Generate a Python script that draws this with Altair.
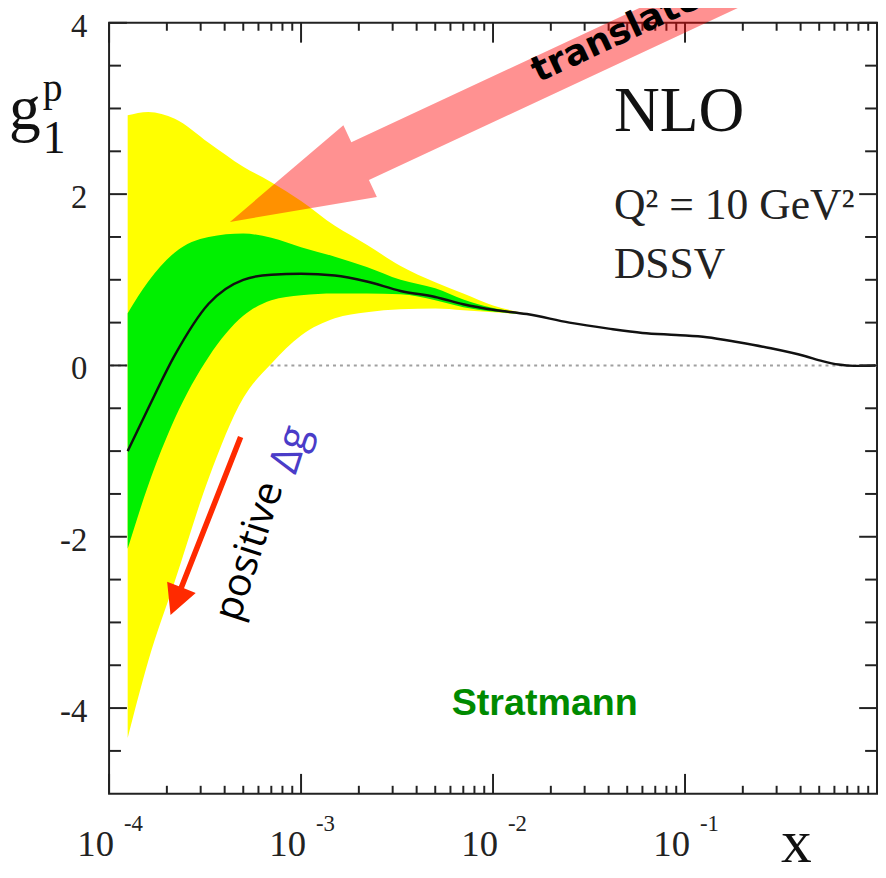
import altair as alt
import pandas as pd

# ---- data ----
band_x = [1.25e-4, 1.6e-4, 2.2e-4, 3.3e-4, 5e-4, 7e-4, 1e-3, 1.5e-3, 2.2e-3,
          3.3e-3, 5e-3, 7e-3, 1e-2, 1.5e-2]
yellow_hi = [2.92, 2.96, 2.88, 2.60, 2.32, 2.14, 1.92, 1.63, 1.41, 1.16, 0.97, 0.84, 0.70, 0.605]
green_hi = [0.61, 0.98, 1.32, 1.50, 1.54, 1.49, 1.38, 1.27, 1.15, 1.00, 0.90, 0.77, 0.67, 0.602]
central = [-1.00, -0.50, 0.12, 0.72, 1.00, 1.06, 1.07, 1.05, 0.98, 0.87, 0.80, 0.715, 0.65, 0.60]
green_lo = [-2.14, -1.40, -0.62, 0.10, 0.58, 0.76, 0.82, 0.84, 0.84, 0.83, 0.76, 0.68, 0.63, 0.598]
yellow_lo = [-4.35, -3.45, -2.52, -1.32, -0.38, 0.02, 0.35, 0.55, 0.62, 0.655, 0.665, 0.645, 0.62, 0.595]

tail_x = [0.025, 0.04, 0.06, 0.09, 0.13, 0.19, 0.28, 0.42, 0.52, 0.63, 0.76, 0.98]
tail_y = [0.50, 0.43, 0.38, 0.355, 0.33, 0.27, 0.20, 0.11, 0.05, 0.01, -0.005, 0.0]

y_major = [-4, -2, 0, 2, 4]
y_minor = [-4.5, -3.5, -3, -2.5, -1.5, -1, -0.5, 0.5, 1, 1.5, 2.5, 3, 3.5]
x_major = [1e-4, 1e-3, 1e-2, 1e-1, 1.0]
x_minor = [k * 10.0 ** e for e in (-4, -3, -2, -1) for k in range(2, 10)]
x_label_pos = [1e-4, 1e-3, 1e-2, 1e-1]
x_label_exp = ["-4", "-3", "-2", "-1"]

W, H = 775, 778
TICK = "#222222"
SERIF = "Liberation Serif"

xs = alt.Scale(type="log", domain=[1e-4, 1], nice=False)
ys = alt.Scale(domain=[-5, 4], nice=False, zero=False)


def X(f):
    return alt.X(f, type="quantitative", scale=xs, axis=None)


def Y(f):
    return alt.Y(f, type="quantitative", scale=ys, axis=None)


band = pd.DataFrame({"x": band_x, "yhi": yellow_hi, "ghi": green_hi,
                     "glo": green_lo, "ylo": yellow_lo})
line = pd.DataFrame({"x": band_x + tail_x, "y": central + tail_y})

zero = alt.Chart(pd.DataFrame({"v": [0]})).mark_rule(
    color="#a0a0a0", strokeWidth=2, strokeDash=[3, 4]).encode(y=Y("v"))

yellow = alt.Chart(band).mark_area(color="#ffff00", interpolate="monotone").encode(
    x=X("x"), y=Y("yhi"), y2="ylo")
green = alt.Chart(band).mark_area(color="#00f000", interpolate="monotone").encode(
    x=X("x"), y=Y("ghi"), y2="glo")
curve = alt.Chart(line).mark_line(color="#111111", strokeWidth=2.5,
                                  interpolate="monotone").encode(x=X("x"), y=Y("y"))


def yticks(vals, ln):
    d = pd.DataFrame({"v": vals})
    left = alt.Chart(d).mark_rule(color=TICK, strokeWidth=2).encode(
        y=Y("v"), x=alt.value(0), x2=alt.value(ln))
    right = alt.Chart(d).mark_rule(color=TICK, strokeWidth=2).encode(
        y=Y("v"), x=alt.value(W), x2=alt.value(W - ln))
    return [left, right]


def xticks(vals, ln):
    d = pd.DataFrame({"v": vals})
    bot = alt.Chart(d).mark_rule(color=TICK, strokeWidth=2).encode(
        x=X("v"), y=alt.value(H), y2=alt.value(H - ln))
    top = alt.Chart(d).mark_rule(color=TICK, strokeWidth=2).encode(
        x=X("v"), y=alt.value(0), y2=alt.value(ln))
    return [bot, top]


ticks = yticks(y_major, 18) + yticks(y_minor, 12) + xticks(x_major, 20) + xticks(x_minor, 8)

# y tick labels
ylab = alt.Chart(pd.DataFrame({"v": y_major, "t": [str(v) for v in y_major]})).mark_text(
    font=SERIF, fontSize=33, align="right", baseline="middle", dy=4, color="#222222").encode(
    y=Y("v"), x=alt.value(-22), text="t:N")

# x tick labels: 10 with raised exponent
xl = pd.DataFrame({"v": x_label_pos, "b": ["10"] * 4, "e": x_label_exp})
xlab10 = alt.Chart(xl).mark_text(font=SERIF, fontSize=37, align="right", dx=5,
                                 baseline="alphabetic", color="#222222").encode(
    x=X("v"), y=alt.value(H + 63), text="b:N")
xlabexp = alt.Chart(xl).mark_text(font=SERIF, fontSize=23, align="left", dx=15,
                                  baseline="alphabetic", color="#222222").encode(
    x=X("v"), y=alt.value(H + 38), text="e:N")

# axis titles
def label(txt, xp, yp, size, **kw):
    return alt.Chart(pd.DataFrame({"t": [txt]})).mark_text(
        font=SERIF, fontSize=size, align="left", baseline="alphabetic",
        color="#111111", **kw).encode(text="t:N", x=alt.value(xp), y=alt.value(yp))

xtitle = label("x", 678, H + 69, 62)
g_t = label("g", -101, 107, 64)
p_t = label("p", -67, 79, 40)
one_t = label("1", -67, 131, 46)

# annotations in data coordinates
def note(txt, x, y, **kw):
    return alt.Chart(pd.DataFrame({"x": [x], "y": [y], "t": [txt]})).mark_text(**kw).encode(
        x=X("x"), y=Y("y"), text="t:N")

nlo = note("NLO", 0.0426, 2.74, font=SERIF, fontSize=64, align="left",
           baseline="alphabetic", color="#111111")
q2 = note("Q² = 10 GeV²", 0.0426, 1.711, font=SERIF, fontSize=44, align="left",
          baseline="alphabetic", color="#222222")
dssv = note("DSSV", 0.0426, 1.017, font=SERIF, fontSize=44, align="left",
            baseline="alphabetic", color="#222222")
strat = note("Stratmann", 0.0186, -4.08, font="Liberation Sans", fontWeight="bold",
             fontSize=38, align="center", baseline="alphabetic", color="#008a00")

pink_path = "M0,0 L-1.45,-0.40 L-1.45,-0.21 L-9,-0.21 L-9,0.21 L-1.45,0.21 L-1.45,0.40 Z"
pink = alt.Chart(pd.DataFrame({"x": [4.26e-4], "y": [1.676]})).mark_point(
    shape=pink_path, size=40000, filled=True, color="#ff0000", opacity=0.43,
    strokeWidth=0, angle=155).encode(x=X("x"), y=Y("y"))
translate = note("translate", 0.0172, 3.30, font="DejaVu Sans", fontWeight="bold",
                 fontSize=36, align="left", baseline="alphabetic", angle=335,
                 color="#000000")

red_path = "M0,0 L-0.30,-0.155 L-0.30,-0.028 L-1.93,-0.028 L-1.93,0.028 L-0.30,0.028 L-0.30,0.155 Z"
red = alt.Chart(pd.DataFrame({"x": [2.09e-4], "y": [-2.913]})).mark_point(
    shape=red_path, size=40000, filled=True, color="#ff2a00", opacity=1,
    strokeWidth=0, angle=111.5).encode(x=X("x"), y=Y("y"))
positive = note("positive", 5.4e-4, -2.17, font="Open Sans", fontSize=40, align="center",
                baseline="middle", angle=288, color="#000000")
dg = note("Δg", 8.8e-4, -0.98, font="Open Sans", fontSize=42, align="center",
          baseline="middle", angle=288, color="#4a3cc8")

layers = [zero, yellow, green, curve] + ticks + [pink, translate, nlo, q2, dssv, strat,
                                                 red, positive, dg, ylab, xlab10, xlabexp,
                                                 xtitle, g_t, p_t, one_t]

chart = alt.layer(*layers).properties(
    width=W, height=H,
    padding={"left": 102, "top": 11, "right": 1, "bottom": 72},
    autosize=alt.AutoSizeParams(type="none"),
    background="white",
).configure_view(stroke="#222222", strokeWidth=2)

chart.save("out.html", embed_options={"renderer": "svg", "actions": False})
